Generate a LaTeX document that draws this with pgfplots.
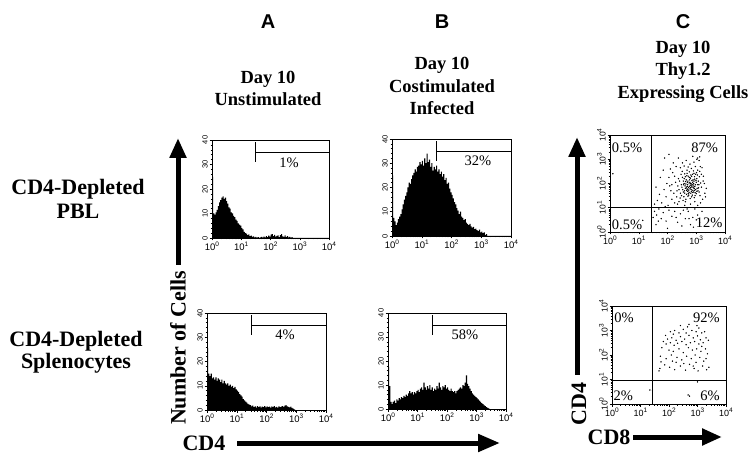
\documentclass[border=0pt]{standalone}
\usepackage{pgfplots}
\pgfplotsset{compat=1.18}
\usetikzlibrary{arrows.meta}
\usepackage{fontspec}
\setmainfont{Liberation Serif}
\setsansfont{Liberation Sans}
\newcommand\tsup[1]{\raisebox{0.9ex}{\fontsize{6.5}{6.5}\selectfont #1}}
\newcommand\tkx{\sffamily\fontsize{9.5}{10}\selectfont}
\newcommand\tky{\sffamily\fontsize{7.5}{8}\selectfont}
\newcommand\pct{\fontsize{14.5}{15}\selectfont}
\newcommand\ttl{\bfseries\fontsize{18.5}{20}\selectfont}
\newcommand\rowl{\bfseries\fontsize{22}{23}\selectfont}
\pgfplotsset{
  logminx/.style={minor xtick={0.301,0.477,0.602,0.699,0.778,0.845,0.903,0.954,1.301,1.477,1.602,1.699,1.778,1.845,1.903,1.954,2.301,2.477,2.602,2.699,2.778,2.845,2.903,2.954,3.301,3.477,3.602,3.699,3.778,3.845,3.903,3.954}},
  logminy/.style={minor ytick={0.301,0.477,0.602,0.699,0.778,0.845,0.903,0.954,1.301,1.477,1.602,1.699,1.778,1.845,1.903,1.954,2.301,2.477,2.602,2.699,2.778,2.845,2.903,2.954,3.301,3.477,3.602,3.699,3.778,3.845,3.903,3.954}},
  base/.style={scale only axis, xmin=0, xmax=4, axis line style={line width=0.7pt},
    tick align=outside, xtick pos=left, ytick pos=left,
    xtick={0,1,2,3,4}, xticklabels={10\tsup{0},10\tsup{1},10\tsup{2},10\tsup{3},10\tsup{4}},
    logminx, major tick length=2.5pt, minor tick length=1.5pt,
    tick style={line width=0.5pt, black},
    xticklabel style={font=\tkx, inner sep=1pt},
    yticklabel style={font=\tky, rotate=90, anchor=south, inner sep=1.5pt},
    clip=false},
  hist/.style={base, ymin=0, ymax=40, ytick={0,10,20,30,40}, yticklabels={0,10,20,30,40},
    minor ytick={2,4,6,8,12,14,16,18,22,24,26,28,32,34,36,38}},
  dot/.style={base, ymin=0, ymax=4, ytick={0,1,2,3,4},
    yticklabels={10\tsup{0},10\tsup{1},10\tsup{2},10\tsup{3},10\tsup{4}}, logminy,
    xticklabel style={font=\sffamily\fontsize{9}{9}\selectfont},
    yticklabel style={font=\sffamily\fontsize{8.5}{9}\selectfont}},
  histfill/.style={const plot mark left, fill=black, draw=none},
  dots/.style={only marks, mark=*, mark size=0.45pt, black},
}
\begin{document}
\begin{tikzpicture}
\path[use as bounding box] (0pt,0pt) rectangle (749pt,463pt);

% ---------- A top ----------
\begin{axis}[hist, at={(212pt,225pt)}, width=117pt, height=98pt]
\addplot[histfill] coordinates {(0,25)(0.04,10)(0.08,9.5)(0.12,10.5)(0.16,11.5)(0.20,13)(0.24,14.5)(0.28,15.5)(0.32,16.5)(0.36,17)(0.40,16)(0.44,16.5)(0.48,15)(0.52,14)(0.56,12.5)(0.60,12)(0.64,10.5)(0.68,10)(0.72,9)(0.76,8.5)(0.80,7.5)(0.84,7)(0.88,6)(0.92,5.5)(0.96,5)(1.00,4)(1.04,3.5)(1.08,2.5)(1.12,2)(1.16,1.8)(1.20,1.2)(1.24,1.5)(1.28,0.8)(1.32,1)(1.36,0.5)(1.40,0.7)(1.44,0.3)(1.48,0.5)(1.52,0.2)(1.56,0.4)(1.60,0.1)(1.64,0.3)(1.68,0.5)(1.72,0.2)(1.76,0.6)(1.80,0.3)(1.84,0.8)(1.88,0.4)(1.92,1)(1.96,0.6)(2.00,1.4)(2.04,1.6)(2.08,0.8)(2.12,1.3)(2.16,0.6)(2.20,0.9)(2.24,1.1)(2.28,0.4)(2.32,1.2)(2.36,1.6)(2.40,0.7)(2.44,0.5)(2.48,1.1)(2.52,0.4)(2.56,0.8)(2.60,0.3)(2.64,0.5)(2.68,0.2)(2.72,0.4)(2.76,0.1)(2.80,0)(4,0)} \closedcycle;
\draw[line width=0.8pt] (axis cs:1.5,39) -- (axis cs:1.5,31);
\draw[line width=0.8pt] (axis cs:1.5,35) -- (axis cs:4,35);
\node[font=\pct] at (axis cs:2.63,30.6) {1\%};
\end{axis}

% ---------- B top ----------
\begin{axis}[hist, at={(392pt,227pt)}, width=119pt, height=97pt]
\addplot[histfill] coordinates {(0,25)(0.04,7.5)(0.08,6)(0.12,4.5)(0.16,5.5)(0.20,7)(0.24,8)(0.28,9)(0.32,11)(0.36,13)(0.40,15)(0.44,16.5)(0.48,18)(0.52,20)(0.56,22)(0.60,21.5)(0.64,23.5)(0.68,25)(0.72,26)(0.76,27.5)(0.80,26.5)(0.84,28.5)(0.88,29)(0.92,30.5)(0.96,29.5)(1.00,31)(1.04,29)(1.08,32)(1.12,30)(1.16,34)(1.20,30.5)(1.24,31.5)(1.28,28.5)(1.32,30)(1.36,27)(1.40,28.5)(1.44,27.5)(1.48,29)(1.52,26.5)(1.56,27.5)(1.60,25.5)(1.64,26.5)(1.68,24.5)(1.72,25.5)(1.76,23)(1.80,24)(1.84,21.5)(1.88,22)(1.92,19.5)(1.96,18)(2.00,17)(2.04,15.5)(2.08,14)(2.12,13)(2.16,11.5)(2.20,10.5)(2.24,9)(2.28,10)(2.32,8)(2.36,7.5)(2.40,6.5)(2.44,7)(2.48,5.5)(2.52,5)(2.56,4.5)(2.60,5)(2.64,4)(2.68,3.5)(2.72,3.8)(2.76,2.8)(2.80,3)(2.84,2.4)(2.88,2)(2.92,2.6)(2.96,1.5)(3.00,1.8)(3.04,1.2)(3.08,1.5)(3.12,0.5)(3.16,0.8)(3.20,0)(4,0)} \closedcycle;
\draw[line width=0.8pt] (axis cs:1.5,39) -- (axis cs:1.5,31);
\draw[line width=0.8pt] (axis cs:1.5,35) -- (axis cs:4,35);
\node[font=\pct] at (axis cs:2.89,30.9) {32\%};
\end{axis}

% ---------- A bottom ----------
\begin{axis}[hist, at={(207pt,53pt)}, width=119pt, height=97pt]
\addplot[histfill] coordinates {(0,25.5)(0.04,15)(0.08,14)(0.12,15)(0.16,13)(0.20,13.5)(0.24,12.5)(0.28,13.5)(0.32,12)(0.36,13)(0.40,12.5)(0.44,11.5)(0.48,12.5)(0.52,11)(0.56,12)(0.60,11)(0.64,10.5)(0.68,11)(0.72,10)(0.76,10.5)(0.80,9.5)(0.84,10)(0.88,9)(0.92,9.5)(0.96,8.5)(1.00,8)(1.04,7.5)(1.08,6.5)(1.12,6)(1.16,5.5)(1.20,4.5)(1.24,4)(1.28,3.5)(1.32,3)(1.36,2.5)(1.40,2.2)(1.44,2)(1.48,1.5)(1.52,1.8)(1.56,1.2)(1.60,1.5)(1.64,1.0)(1.68,1.6)(1.72,1.2)(1.76,1.5)(1.80,1.0)(1.84,1.4)(1.88,1.2)(1.92,1.6)(1.96,1.1)(2.00,1.5)(2.04,1.2)(2.08,1.4)(2.12,1.0)(2.16,1.5)(2.20,1.2)(2.24,1.6)(2.28,1.1)(2.32,1.3)(2.36,1.0)(2.40,1.5)(2.44,1.2)(2.48,1.4)(2.52,1.6)(2.56,1.3)(2.60,1.8)(2.64,2)(2.68,1.5)(2.72,1.3)(2.76,1.1)(2.80,1.4)(2.84,0.9)(2.88,0.6)(2.92,0.3)(2.96,0)(4,0)} \closedcycle;
\draw[line width=0.8pt] (axis cs:1.5,39) -- (axis cs:1.5,31);
\draw[line width=0.8pt] (axis cs:1.5,35) -- (axis cs:4,35);
\node[font=\pct] at (axis cs:2.62,30.9) {4\%};
\end{axis}

% ---------- B bottom ----------
\begin{axis}[hist, at={(388pt,54pt)}, width=118pt, height=96pt]
\addplot[histfill] coordinates {(0,17.5)(0.04,9.5)(0.08,3)(0.12,2)(0.16,3)(0.20,3.5)(0.24,2.5)(0.28,4)(0.32,3.5)(0.36,4.5)(0.40,4)(0.44,5)(0.48,4.5)(0.52,5.5)(0.56,5)(0.60,6)(0.64,5.5)(0.68,6.5)(0.72,7.5)(0.76,6.5)(0.80,7)(0.84,6)(0.88,7)(0.92,6.5)(0.96,7.5)(1.00,8)(1.04,7)(1.08,8.5)(1.12,9)(1.16,8)(1.20,11)(1.24,9)(1.28,8)(1.32,9.5)(1.36,8.5)(1.40,10)(1.44,8)(1.48,9)(1.52,7.5)(1.56,8.5)(1.60,8)(1.64,9.5)(1.68,8.5)(1.72,11)(1.76,9)(1.80,8)(1.84,9.5)(1.88,9)(1.92,10)(1.96,8.5)(2.00,9)(2.04,8)(2.08,7.5)(2.12,8.5)(2.16,7.5)(2.20,7)(2.24,7.5)(2.28,6.5)(2.32,7.5)(2.36,8)(2.40,8.5)(2.44,9)(2.48,8.5)(2.52,10)(2.56,9.5)(2.60,11)(2.64,14)(2.68,10.5)(2.72,9.5)(2.76,8.5)(2.80,7.5)(2.84,6.5)(2.88,6)(2.92,5.5)(2.96,5)(3.00,4.5)(3.04,4)(3.08,3.5)(3.12,3)(3.16,2.5)(3.20,2)(3.24,1.5)(3.28,1.2)(3.32,0.8)(3.36,0.5)(3.40,0.3)(3.44,0)(4,0)} \closedcycle;
\draw[line width=0.8pt] (axis cs:1.5,39) -- (axis cs:1.5,31);
\draw[line width=0.8pt] (axis cs:1.5,35) -- (axis cs:4,35);
\node[font=\pct] at (axis cs:2.61,30.8) {58\%};
\end{axis}

% ---------- C top ----------
\begin{axis}[dot, at={(610pt,231pt)}, width=115pt, height=97pt]
\addplot[dots] coordinates {(2.55,1.65)(2.62,1.80)(2.70,1.95)(2.78,2.05)(2.85,1.85)(2.92,2.10)(2.98,1.75)(3.05,1.95)(2.66,1.55)(2.74,1.70)
(2.81,1.60)(2.88,1.72)(2.95,1.88)(3.02,2.20)(3.10,1.65)(2.58,2.00)(2.65,2.15)(2.72,2.30)(2.80,2.22)(2.87,2.38)
(2.94,2.28)(3.01,2.45)(2.50,1.85)(2.57,1.45)(2.64,1.35)(2.71,1.48)(2.79,1.38)(2.86,1.52)(2.93,1.42)(3.00,1.58)
(3.08,1.82)(3.15,2.02)(2.45,1.60)(2.52,2.25)(2.60,2.40)(2.68,2.55)(2.76,2.48)(2.83,2.62)(2.90,2.52)(2.97,2.70)
(3.04,2.35)(3.12,2.50)(2.48,1.95)(2.55,2.10)(2.62,1.25)(2.69,2.05)(2.76,1.88)(2.84,1.98)(2.91,2.00)(2.99,2.12)
(3.06,1.70)(3.13,1.50)(2.40,1.75)(2.47,2.38)(2.54,1.30)(2.61,1.90)(2.68,1.78)(2.75,1.62)(2.82,1.75)(2.89,1.90)
(2.96,1.62)(3.03,1.80)(3.11,2.28)(3.18,1.85)(2.42,2.10)(2.49,1.50)(2.56,1.95)(2.63,2.08)(2.70,1.68)(2.77,2.15)
(2.84,2.30)(2.91,1.65)(2.98,2.38)(3.05,2.55)(3.14,2.70)(2.36,1.90)(2.44,1.40)(2.51,2.50)(2.59,1.70)(2.67,2.32)
(2.73,1.83)(2.79,1.93)(2.87,2.05)(2.93,1.80)(2.71,2.10)(2.83,1.68)(2.97,1.95)(2.64,1.98)(2.76,2.25)(2.89,2.15)
(2.60,1.60)(2.74,1.52)(2.86,1.63)(3.00,2.05)(2.68,2.42)(2.81,2.35)(2.95,2.18)(3.07,2.10)(2.53,1.75)(2.66,1.72)
(2.78,1.78)(2.90,1.82)(3.02,1.68)(2.58,2.20)(2.72,1.58)(2.84,1.45)(2.96,1.50)(2.62,2.28)(2.80,2.00)(2.92,2.42)
(2.69,1.88)(2.75,2.02)(2.83,1.90)(2.88,1.95)(2.71,1.75)(2.80,1.83)(2.85,2.12)(2.94,1.72)(2.65,1.85)(3.09,1.95)
(1.65,1.30)(1.72,1.55)(1.80,1.20)(1.88,1.75)(1.95,1.45)(2.02,1.10)(2.08,1.90)(2.15,1.35)(2.22,1.60)(2.28,2.05)
(2.05,2.25)(2.18,2.45)(2.30,2.70)(2.12,1.70)(1.98,2.00)(2.25,1.20)(2.35,1.15)(2.20,2.85)(2.05,3.20)(2.38,3.05)
(2.52,2.85)(2.65,2.95)(2.78,2.80)(2.92,2.88)(3.05,3.05)(3.10,2.95)(3.20,2.65)(3.25,2.30)(3.28,2.00)(3.30,1.60)
(3.22,1.35)(3.15,1.20)(3.35,1.80)(3.24,2.10)(3.18,2.38)(2.45,2.65)(2.58,2.72)(2.72,2.68)(2.40,1.25)(2.60,1.10)
(2.80,1.15)(2.95,1.25)(3.05,1.10)(1.75,2.25)(1.60,1.85)(1.85,2.55)(1.55,1.15)(2.32,1.45)(2.10,2.60)(1.92,1.05)
(3.02,3.00)(3.12,3.10)(2.88,3.12)(2.25,2.30)(2.38,2.20)(2.33,1.70)(2.15,1.95)(3.32,1.45)(0.10,2.40)(1.90,3.05)
(1.55,0.85)(1.62,0.70)(1.70,0.95)(1.78,0.55)(1.85,0.80)(1.95,0.45)(2.05,0.90)(2.15,0.65)(2.25,0.85)(2.35,0.40)
(2.45,0.75)(2.55,0.90)(2.62,0.55)(2.72,0.85)(2.80,0.30)(2.88,0.60)(2.95,0.95)(3.05,0.70)(3.12,0.40)(3.20,0.85)
(2.50,0.25)(2.68,0.95)(2.90,0.20)(1.60,0.30)(1.68,0.45)(2.00,0.15)(2.30,0.60)(3.00,0.50)(2.75,0.55)(1.50,0.60)
(1.14,0.48)};
\draw[line width=0.8pt] (axis cs:1.45,0) -- (axis cs:1.45,4);
\draw[line width=0.8pt] (axis cs:0,1) -- (axis cs:4,1);
\node[font=\pct, anchor=west, inner sep=0pt] at (axis cs:0.06,3.46) {0.5\%};
\node[font=\pct, anchor=east, inner sep=0pt] at (axis cs:3.76,3.46) {87\%};
\node[font=\pct, anchor=west, inner sep=0pt] at (axis cs:0.06,0.30) {0.5\%};
\node[font=\pct, anchor=east, inner sep=0pt] at (axis cs:3.92,0.40) {12\%};
\end{axis}

% ---------- C bottom ----------
\begin{axis}[dot, at={(612pt,59pt)}, width=114pt, height=98pt]
\addplot[dots] coordinates {(2.05,2.95)(2.20,3.00)(2.35,2.90)(2.50,3.05)(2.65,3.15)(2.80,3.00)(2.95,2.95)(3.05,3.10)(3.15,2.90)(3.25,2.95)
(1.95,2.65)(2.10,2.70)(2.25,2.60)(2.40,2.75)(2.55,2.65)(2.70,2.80)(2.85,2.70)(3.00,2.78)(3.10,2.62)(3.30,2.70)
(1.80,2.55)(1.90,2.45)(2.05,2.50)(2.18,2.40)(2.30,2.48)(2.45,2.55)(2.60,2.42)(2.75,2.50)(2.90,2.55)(3.05,2.45)
(3.20,2.50)(3.38,2.60)(1.75,2.30)(2.00,2.20)(2.15,2.15)(2.35,2.25)(2.50,2.10)(2.68,2.30)(2.82,2.20)(2.97,2.25)
(3.12,2.15)(3.28,2.25)(1.70,1.95)(1.90,1.85)(2.08,2.00)(2.28,1.90)(2.45,1.80)(2.62,1.95)(2.78,1.85)(2.92,2.00)
(3.08,1.90)(3.22,1.75)(3.35,2.05)(1.68,1.45)(1.85,1.60)(2.02,1.50)(2.20,1.40)(2.40,1.55)(2.58,1.38)(2.72,1.62)
(2.88,1.45)(3.02,1.35)(3.18,1.55)(3.32,1.40)(1.65,1.35)(2.12,1.75)(2.52,1.65)(2.95,1.70)(3.40,1.50)(2.40,3.20)
(2.70,3.25)(2.98,3.20)(2.15,2.85)(2.60,2.90)(1.88,2.80)(3.15,2.35)(2.25,1.70)(2.85,1.55)(1.72,1.72)(3.30,1.85)
(2.67,0.37)(2.72,0.32)(3.00,0.90)(1.33,0.57)(1.42,0.57)};
\draw[line width=0.8pt] (axis cs:1.40,0) -- (axis cs:1.40,4);
\draw[line width=0.8pt] (axis cs:0,0.98) -- (axis cs:4,0.98);
\node[font=\pct, anchor=west, inner sep=0pt] at (axis cs:0.08,3.51) {0\%};
\node[font=\pct, anchor=east, inner sep=0pt] at (axis cs:3.79,3.51) {92\%};
\node[font=\pct, anchor=west, inner sep=0pt] at (axis cs:0.05,0.33) {2\%};
\node[font=\pct, anchor=east, inner sep=0pt] at (axis cs:3.79,0.33) {6\%};
\end{axis}

% ---------- texts ----------
\node[font=\sffamily\bfseries\fontsize{20}{21}\selectfont] at (268pt,441pt) {A};
\node[font=\sffamily\bfseries\fontsize{20}{21}\selectfont] at (442pt,441pt) {B};
\node[font=\sffamily\bfseries\fontsize{20}{21}\selectfont] at (683pt,441pt) {C};

\node[font=\ttl, anchor=base] at (268pt,379pt) {Day 10};
\node[font=\ttl, anchor=base] at (268pt,357pt) {Unstimulated};
\node[font=\ttl, anchor=base] at (442pt,393pt) {Day 10};
\node[font=\ttl, anchor=base] at (442pt,370pt) {Costimulated};
\node[font=\ttl, anchor=base] at (442pt,348pt) {Infected};
\node[font=\ttl, anchor=base] at (683pt,409pt) {Day 10};
\node[font=\ttl, anchor=base] at (683pt,387pt) {Thy1.2};
\node[font=\ttl, anchor=base] at (683pt,364pt) {Expressing Cells};

\node[font=\rowl, anchor=base] at (78pt,268pt) {CD4-Depleted};
\node[font=\rowl, anchor=base] at (78pt,244pt) {PBL};
\node[font=\rowl, anchor=base] at (76pt,116pt) {CD4-Depleted};
\node[font=\rowl, anchor=base] at (76pt,94pt) {Splenocytes};

\node[font=\rowl, rotate=90] at (178pt,115pt) {Number of Cells};
\node[font=\rowl] at (204pt,20pt) {CD4};
\node[font=\rowl, rotate=90] at (579pt,59pt) {CD4};
\node[font=\rowl] at (609pt,26pt) {CD8};

\draw[line width=5pt, -{Triangle[length=20pt,width=16pt]}] (178pt,198pt) -- (178pt,325pt);
\draw[line width=5pt, -{Triangle[length=22pt,width=17pt]}] (237pt,20pt) -- (500pt,20pt);
\draw[line width=5pt, -{Triangle[length=20pt,width=16pt]}] (577pt,88pt) -- (577pt,326pt);
\draw[line width=5pt, -{Triangle[length=20pt,width=16pt]}] (633pt,26pt) -- (722pt,26pt);
\end{tikzpicture}
\end{document}
